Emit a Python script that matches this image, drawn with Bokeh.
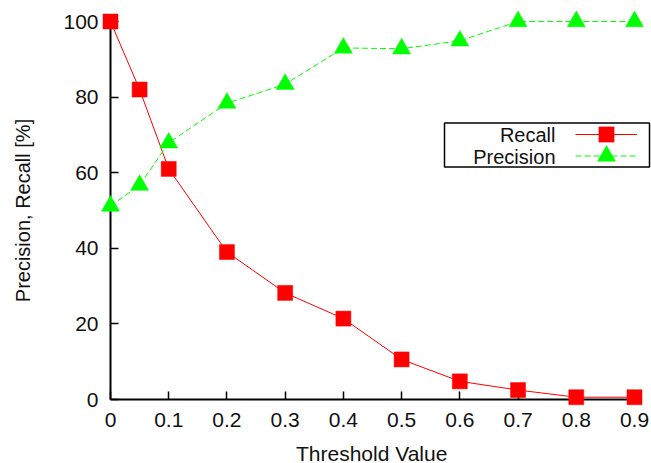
from bokeh.plotting import figure
from bokeh.models import (FixedTicker, Legend, LegendItem, Label, BoxAnnotation, Range1d, Title)
from bokeh.embed import file_html
from bokeh.resources import INLINE

thresholds = [0, 0.05, 0.1, 0.2, 0.3, 0.4, 0.5, 0.6, 0.7, 0.8, 0.9]
recall = [100, 82, 61, 39, 28.2, 21.4, 10.6, 4.8, 2.5, 0.6, 0.6]
precision = [51.2, 56.7, 67.9, 78.4, 83.4, 93.0, 92.8, 94.9, 100, 100, 100]
x_ticks = [0, 0.1, 0.2, 0.3, 0.4, 0.5, 0.6, 0.7, 0.8, 0.9]
y_ticks = [0, 20, 40, 60, 80, 100]
series_names = ["Recall", "Precision"]
x_title = "Threshold Value"
y_title = "Precision, Recall [%]"

FONT = "Liberation Sans"

# axis spans 524 px for 0..0.9; frame extended to the right edge of the canvas
AX_W = 524
FRAME_W = 541
x_end = x_ticks[-1] * FRAME_W / AX_W

p = figure(width=651, height=463, frame_width=FRAME_W, frame_height=378,
           min_border_left=110, min_border_right=0, min_border_top=21, min_border_bottom=64,
           x_range=Range1d(0, x_end), y_range=Range1d(0, 100),
           output_backend="svg", toolbar_location=None)
p.outline_line_color = None
p.grid.visible = False
p.background_fill_color = "white"
p.border_fill_color = "white"

for ax, ticks in ((p.xaxis[0], x_ticks), (p.yaxis[0], y_ticks)):
    ax.ticker = FixedTicker(ticks=ticks)
    ax.bounds = (ticks[0], ticks[-1])
    ax.minor_tick_line_color = None
    ax.major_tick_in = 8
    ax.major_tick_out = 0
    ax.major_tick_line_width = 1.5
    ax.major_tick_line_color = "black"
    ax.axis_line_width = 2
    ax.axis_line_color = "black"
    ax.major_label_text_font = FONT
    ax.major_label_text_color = "#111111"
    ax.axis_label_text_font = FONT
    ax.axis_label_text_font_style = "normal"
    ax.axis_label_text_color = "#111111"

p.xaxis.major_label_text_font_size = "21px"
p.yaxis.major_label_text_font_size = "21px"
p.yaxis.axis_label_text_font_size = "20px"
p.xaxis.major_label_standoff = 13
p.yaxis.major_label_standoff = 12
p.yaxis.axis_label_standoff = 26
p.yaxis.axis_label = y_title

# x title: centred under the axis span (0..0.9), which is narrower than the frame
title_w = 153  # approx. rendered width of the title text at 21px
p.add_layout(Title(text=x_title, align="left", offset=AX_W / 2 - title_w / 2,
                   text_font=FONT, text_font_size="21px", text_font_style="normal",
                   text_color="#111111", standoff=20), "below")

r_line = p.line(thresholds, recall, line_color="#ff0000", line_width=1, level="overlay")
r_pts = p.scatter(thresholds, recall, marker="square", size=15, fill_color="#ff0000",
                  line_color="#ff0000", line_width=0.5, level="overlay")
p_line = p.line(thresholds, precision, line_color="#00ff00", line_width=1,
                line_dash="6 3", level="overlay")
p_pts = p.scatter(thresholds, precision, marker="triangle", size=18, fill_color="#00ff00",
                  line_color="#00ff00", line_width=0.5, level="overlay")

# legend frame and texts (screen units relative to plot frame)
box = BoxAnnotation(left=334, right=539, top=276.5, bottom=232.5,
                    left_units="screen", right_units="screen",
                    top_units="screen", bottom_units="screen",
                    fill_alpha=0, line_color="black", line_alpha=1, line_width=1.5)
p.add_layout(box)

for name, yb in zip(series_names, (264.5, 243.0)):
    p.add_layout(Label(x=445, y=yb, x_units="screen", y_units="screen", text=name,
                       text_align="right", text_baseline="alphabetic",
                       text_font=FONT, text_font_size="20px", text_color="#111111"))

def key(renderers, gh, loc):
    lg = Legend(items=[LegendItem(label=" ", renderers=renderers)], location=loc,
                glyph_width=62, glyph_height=gh, label_width=0, label_height=0,
                label_standoff=0, padding=0, margin=0, spacing=0,
                border_line_color=None, background_fill_alpha=0,
                label_text_font_size="1px")
    p.add_layout(lg)

key([r_line, r_pts], 38, (465, 246.5))
key([p_line, p_pts], 45, (465, 221))

open("out.html", "w").write(file_html(p, INLINE))
